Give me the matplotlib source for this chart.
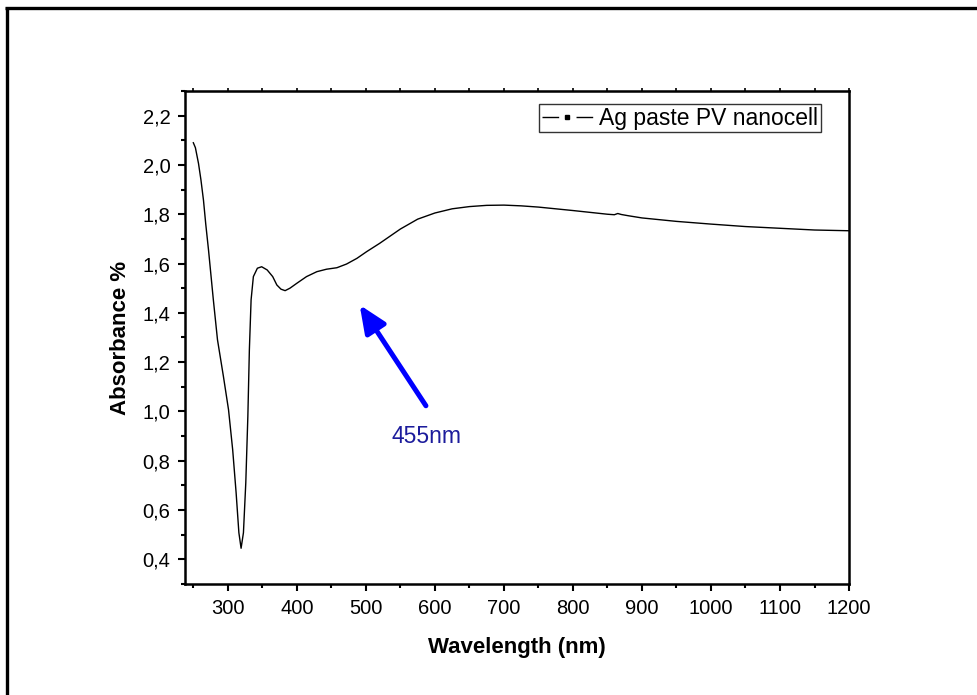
"""Absorbance spectrum of the Ag paste PV nanocell."""

import matplotlib

matplotlib.use("Agg")

import matplotlib.pyplot as plt
from matplotlib.lines import Line2D
from matplotlib.ticker import FuncFormatter, MultipleLocator

plt.rcParams["font.family"] = ["Liberation Sans", "DejaVu Sans"]

WAVELENGTH_NM = [
    250, 253, 257.5, 261, 264.7, 268, 272, 279, 285, 293.6,
    301, 307, 312, 316, 319.2, 322.6, 326, 329, 331.2, 333.7,
    337, 342.8, 349, 357, 365, 371, 377, 383, 390, 400,
    414, 429, 443, 458, 472, 487, 501, 520, 550, 575,
    600, 625, 650, 675, 700, 725, 750, 800, 850, 860,
    865, 870, 880, 900, 950, 1000, 1050, 1100, 1150, 1200,
]
ABSORBANCE = [
    2.09, 2.07, 2.006, 1.94, 1.857, 1.76, 1.655, 1.453, 1.291, 1.142,
    1.007, 0.845, 0.67, 0.508, 0.445, 0.508, 0.71, 0.98, 1.25, 1.453,
    1.547, 1.581, 1.587, 1.574, 1.547, 1.513, 1.496, 1.49, 1.5, 1.52,
    1.547, 1.567, 1.577, 1.583, 1.598, 1.621, 1.648, 1.682, 1.74, 1.78,
    1.805, 1.822, 1.831, 1.836, 1.837, 1.834, 1.829, 1.815, 1.8, 1.798,
    1.803, 1.799, 1.794, 1.785, 1.771, 1.76, 1.75, 1.743, 1.736, 1.733,
]
SERIES_LABEL = "Ag paste PV nanocell"

# arrow marking the 455 nm feature: tail -> tip, plus its label
ARROW_TAIL = (587, 1.023)
ARROW_TIP = (491, 1.432)
ARROW_TEXT = "455nm"
ARROW_TEXT_POS = (588, 0.898)


def comma_decimal(value, _pos):
    return f"{value:.1f}".replace(".", ",")


def main() -> None:
    fig = plt.figure(figsize=(9.77, 6.95), dpi=100)
    ax = fig.add_axes([0.1894, 0.1597, 0.6796, 0.7094])

    # partial outer frame (top and left edges only)
    fig.add_artist(Line2D([0.0055, 1.0], [0.988, 0.988], color="black", linewidth=2.4,
                          transform=fig.transFigure, solid_capstyle="butt"))
    fig.add_artist(Line2D([0.0067, 0.0067], [0.0, 0.990], color="black", linewidth=2.4,
                          transform=fig.transFigure, solid_capstyle="butt"))

    ax.plot(WAVELENGTH_NM, ABSORBANCE, color="black", linewidth=1.0)

    ax.set_xlim(238, 1200)
    ax.set_ylim(0.3, 2.3)
    ax.xaxis.set_major_locator(MultipleLocator(100))
    ax.xaxis.set_minor_locator(MultipleLocator(50))
    ax.yaxis.set_major_locator(MultipleLocator(0.2))
    ax.yaxis.set_minor_locator(MultipleLocator(0.1))
    ax.yaxis.set_major_formatter(FuncFormatter(comma_decimal))

    for spine in ax.spines.values():
        spine.set_linewidth(1.8)
    ax.tick_params(which="major", direction="out", length=5, width=1.5,
                   labelsize=14.5, pad=5.5)
    ax.tick_params(which="minor", direction="out", length=3, width=1.5)

    top = ax.secondary_xaxis("top")
    top.xaxis.set_major_locator(MultipleLocator(100))
    top.xaxis.set_minor_locator(MultipleLocator(50))
    top.tick_params(which="both", direction="out", length=2, width=1.2, labeltop=False)

    ax.set_xlabel("Wavelength (nm)", fontsize=16, fontweight="bold", labelpad=14)
    ax.set_ylabel("Absorbance %", fontsize=16, fontweight="bold", labelpad=8)

    handle = Line2D([], [], color="black", linewidth=1.0, dashes=(12, 12.5),
                    marker="s", markersize=3.2)
    legend = ax.legend([handle], [SERIES_LABEL], loc="upper right",
                       bbox_to_anchor=(0.958, 0.9736), borderaxespad=0,
                       fontsize=16.5, handlelength=2.2, handletextpad=0.3,
                       borderpad=0.12, numpoints=1, fancybox=False, framealpha=1)
    legend.get_frame().set_edgecolor("#333333")
    legend.get_frame().set_linewidth(1.0)

    ax.annotate("", xy=ARROW_TIP, xytext=ARROW_TAIL,
                arrowprops=dict(arrowstyle="-|>,head_length=0.83,head_width=0.36",
                                mutation_scale=20, color="#0000ff", lw=3.6,
                                shrinkA=0, shrinkB=0))
    ax.text(*ARROW_TEXT_POS, ARROW_TEXT, color="#1c1c9c", fontsize=16.5,
            ha="center", va="center")

    fig.savefig("out.png", dpi=100)
    plt.close(fig)


if __name__ == "__main__":
    main()
